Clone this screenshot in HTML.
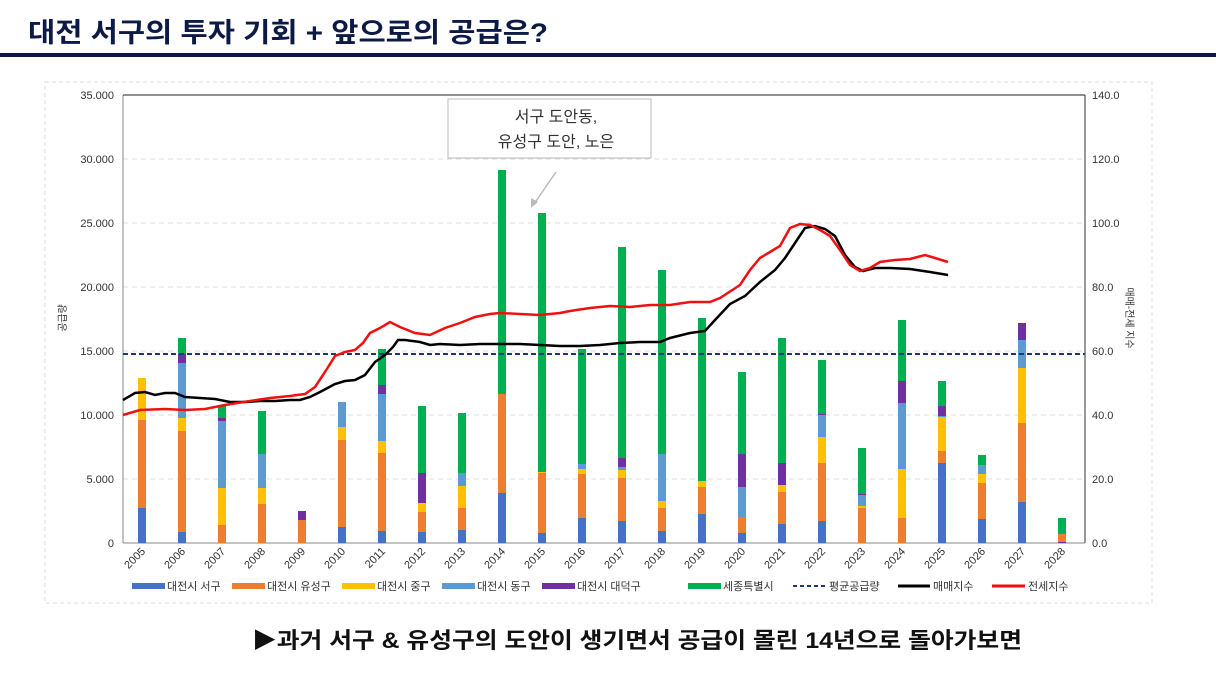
<!DOCTYPE html>
<html><head><meta charset="utf-8"><style>
body{margin:0;width:1216px;height:684px;background:#fff;overflow:hidden;font-family:"Liberation Sans","Noto Sans CJK KR",sans-serif}
</style></head><body>
<svg id="s" width="1216" height="684" xmlns="http://www.w3.org/2000/svg" font-family="Liberation Sans, Noto Sans CJK KR, sans-serif">
<text x="28" y="42" font-size="27" font-weight="bold" fill="#0d1a45" textLength="520" lengthAdjust="spacingAndGlyphs">대전 서구의 투자 기회 + 앞으로의 공급은?</text>
<rect x="0" y="53" width="1216" height="4" fill="#0d1a45"/>
<rect x="45" y="82" width="1107" height="521" fill="none" stroke="#ddd" stroke-dasharray="4,3"/>
<g id="grid"></g>
<line x1="123" y1="95" x2="123" y2="543" stroke="#888"/>
<line x1="1085" y1="95" x2="1085" y2="543" stroke="#333"/>
<line x1="123" y1="95" x2="1085" y2="95" stroke="#222"/>
<line x1="123" y1="543" x2="1085" y2="543" stroke="#888"/>
<g id="bars"></g>
<line x1="123" y1="354" x2="1085" y2="354" stroke="#1f3580" stroke-width="2" stroke-dasharray="5,3"/>
<polyline fill="none" stroke="#000" stroke-width="2.5" points="123,400 135,393 145,392 155,395 165,393 175,393 185,397 200,398 215,399 230,402 245,402 260,401 275,401 290,400 300,400 310,397 320,392 335,384 345,381 355,380 365,375 375,362 385,355 393,347 398,340 405,340 420,342 430,345 440,344 460,345 480,344 500,344 520,344 540,345 560,346 580,346 600,345 620,343 640,342 660,342 670,338 690,333 705,331 715,320 730,304 745,296 760,282 775,270 785,258 795,243 805,228 815,226 825,229 835,236 845,255 855,267 863,271 875,268 890,268 910,269 930,272 948,275"/>
<polyline fill="none" stroke="#f01010" stroke-width="2.5" points="123,415 140,410 165,409 185,410 205,409 225,405 250,401 270,398 290,396 305,394 315,387 325,372 335,356 345,352 355,350 363,343 370,333 380,328 390,322 400,327 415,333 430,335 445,328 460,323 475,317 490,314 500,313 520,314 540,315 560,313 570,311 590,308 610,306 630,307 650,305 670,305 690,302 710,302 720,298 740,285 750,270 760,258 770,252 780,246 790,228 800,224 810,225 820,230 830,236 840,250 850,265 860,271 870,268 880,262 895,260 910,259 925,255 935,258 948,262"/>
<g id="lab" font-size="11" fill="#333"></g>
<text transform="translate(66,318) rotate(-90)" font-size="10" fill="#333" text-anchor="middle">공급량</text>
<text transform="translate(1126,318) rotate(90)" font-size="10" fill="#333" text-anchor="middle">매매-전세 지수</text>
<rect x="448" y="99" width="203" height="59" fill="#fff" stroke="#bbb"/>
<text x="556" y="122" font-size="16" fill="#333" text-anchor="middle">서구 도안동,</text>
<text x="556" y="147" font-size="16" fill="#333" text-anchor="middle">유성구 도안, 노은</text>
<line x1="556" y1="172" x2="534" y2="204" stroke="#bbb" stroke-width="1.5"/>
<polygon points="531,208 531,198 538,202" fill="#bbb"/>
<g id="leg" font-size="11" fill="#333"></g>
<text x="252" y="648" font-size="22" font-weight="bold" fill="#111" textLength="770" lengthAdjust="spacingAndGlyphs">▶과거 서구 &amp; 유성구의 도안이 생기면서 공급이 몰린 14년으로 돌아가보면</text>
</svg>
<script>
var NS="http://www.w3.org/2000/svg";
function el(p,t,a,txt){var e=document.createElementNS(NS,t);for(var k in a)e.setAttribute(k,a[k]);if(txt!=null)e.textContent=txt;document.getElementById(p).appendChild(e);}
var C=["#4472c4","#ed7d31","#ffc000","#5b9bd5","#7030a0","#00b050"];
for(var i=0;i<=7;i++){var y=543-i*64;
 if(i>0&&i<7)el("grid","line",{x1:123,x2:1085,y1:y,y2:y,stroke:"#ddd","stroke-dasharray":"5,4"});
 el("lab","text",{x:114,y:y+4,"text-anchor":"end"},(i==0?"0":(i*5)+".000"));
 el("lab","text",{x:1092,y:y+4},(i*20)+".0");}
var D=[
[508,420,378,null,null,null],[532,431,418,363,354,338],[null,525,488,421,418,406],[null,504,488,454,null,411],
[null,520,null,null,511,null],[527,440,427,402,null,null],[531,453,441,394,385,349],[532,512,503,null,473,406],
[530,508,486,473,null,413],[493,394,null,null,null,170],[533,473,472,null,null,213],[518,474,469,464,null,349],
[521,478,470,467,458,247],[531,508,501,454,null,270],[514,487,481,null,null,318],[533,517,null,487,454,372],
[524,492,485,null,463,338],[521,463,437,415,414,360],[null,508,506,495,494,448],[null,518,469,403,381,320],
[463,451,417,416,406,381],[519,483,474,465,null,455],[502,423,368,340,323,null],[null,534,null,null,542,518]];
for(var i=0;i<24;i++){var cx=142+i*40,b=543;var d=D[i];
 if(i==23){el("bars","rect",{x:cx-4,y:534,width:8,height:8,fill:C[1]});el("bars","rect",{x:cx-4,y:542,width:8,height:1,fill:C[4]});el("bars","rect",{x:cx-4,y:518,width:8,height:16,fill:C[5]});}
 else for(var k=0;k<6;k++){var t=d[k];if(t==null)continue;el("bars","rect",{x:cx-4,y:t,width:8,height:b-t,fill:C[k]});b=t;}
 el("lab","text",{transform:"translate("+(cx+4)+",552) rotate(-45)","text-anchor":"end"},2005+i);}
var L=[[132,"대전시 서구",0],[232,"대전시 유성구",1],[342,"대전시 중구",2],[442,"대전시 동구",3],[542,"대전시 대덕구",4],[688,"세종특별시",5]];
L.forEach(function(l){el("leg","rect",{x:l[0],y:583,width:33,height:6,fill:C[l[2]]});el("leg","text",{x:l[0]+35,y:590},l[1]);});
el("leg","line",{x1:793,x2:826,y1:586,y2:586,stroke:"#1f3580","stroke-width":2,"stroke-dasharray":"4,3"});el("leg","text",{x:829,y:590},"평균공급량");
el("leg","line",{x1:898,x2:930,y1:586,y2:586,stroke:"#000","stroke-width":3});el("leg","text",{x:933,y:590},"매매지수");
el("leg","line",{x1:992,x2:1025,y1:586,y2:586,stroke:"#f01010","stroke-width":3});el("leg","text",{x:1028,y:590},"전세지수");
</script>
</body></html>
